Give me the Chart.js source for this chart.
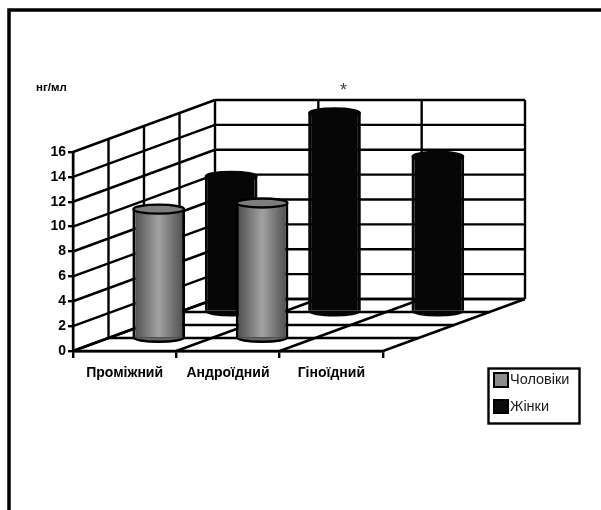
<!DOCTYPE html>
<html>
<head>
<meta charset="utf-8">
<style>
html, body { margin: 0; padding: 0; background: #fff; }
canvas { display: block; filter: blur(0.5px); }
</style>
<script src="https://cdn.jsdelivr.net/npm/chart.js@4"></script>
</head>
<body>
<canvas id="chart" width="601" height="510"></canvas>
<script>
const categories = ['Проміжний', 'Андроїдний', 'Гіноїдний'];
const men = [10.4, 10.9, null];
const women = [10.9, 16, 12.5];
const seriesNames = ['Чоловіки', 'Жінки'];
const yTicks = [0, 2, 4, 6, 8, 10, 12, 14, 16];
const unitLabel = 'нг/мл';
const starLabel = '*';

// depth of the fake 3D box, and how far back each row of bars stands
const depth = { x: 142, y: -52 };
const rows = [0.24, 0.75];
const depthLines = [0.25, 0.5, 0.75, 1];

function menFill(context) {
    const chart = context.chart;
    if (!chart.chartArea || context.dataIndex === undefined) return '#888';
    const cx = chart.scales.x.getPixelForValue(context.dataIndex);
    const g = chart.ctx.createLinearGradient(cx - 26, 0, cx + 26, 0);
    g.addColorStop(0, '#4a4a4a');
    g.addColorStop(0.5, '#a2a2a2');
    g.addColorStop(1, '#4a4a4a');
    return g;
}

function line(ctx, x1, y1, x2, y2) {
    ctx.beginPath();
    ctx.moveTo(x1, y1);
    ctx.lineTo(x2, y2);
    ctx.stroke();
}

const box3d = {
    id: 'box3d',
    beforeDatasetsDraw(chart) {
        const { ctx, scales: { x, y } } = chart;
        const left = x.left, right = x.right, base = y.getPixelForValue(0), top = y.getPixelForValue(16);
        ctx.save();
        ctx.strokeStyle = '#000';
        ctx.lineWidth = 2.4;
        // side wall and back wall
        yTicks.forEach(v => {
            const py = y.getPixelForValue(v);
            line(ctx, left, py, left + depth.x, py + depth.y);
            line(ctx, left + depth.x, py + depth.y, right + depth.x, py + depth.y);
        });
        line(ctx, left, top, left, base);
        depthLines.forEach(f => {
            const dx = depth.x * f, dy = depth.y * f;
            line(ctx, left + dx, top + dy, left + dx, base + dy);
            line(ctx, left + dx, base + dy, right + dx, base + dy);
        });
        // floor
        line(ctx, left, base, right, base);
        const step = (right - left) / categories.length;
        for (let i = 0; i <= categories.length; i++) {
            const px = left + step * i;
            line(ctx, px, base, px + depth.x, base + depth.y);
            if (i > 0) line(ctx, px + depth.x, top + depth.y, px + depth.x, base + depth.y);
        }
        ctx.restore();
    },
    beforeDatasetDraw(chart, args) {
        const ctx = chart.ctx, f = rows[args.index];
        ctx.save();
        ctx.translate(depth.x * f, depth.y * f);
    },
    afterDatasetDraw(chart, args) {
        const ctx = chart.ctx;
        const isMen = args.index === 0;
        args.meta.data.forEach((bar, i) => {
            if (chart.data.datasets[args.index].data[i] === null) return;
            const rx = bar.width / 2 - 1, ry = 4.5;
            // round bottom
            ctx.fillStyle = isMen ? '#666' : '#060606';
            ctx.strokeStyle = isMen ? '#000' : '#060606';
            ctx.lineWidth = 2.4;
            ctx.beginPath();
            ctx.ellipse(bar.x, bar.base, rx, ry, 0, 0, Math.PI);
            ctx.fill();
            ctx.stroke();
            // round top
            ctx.fillStyle = isMen ? '#7d7d7d' : '#060606';
            ctx.beginPath();
            ctx.ellipse(bar.x, bar.y, rx, ry, 0, 0, Math.PI * 2);
            ctx.fill();
            ctx.stroke();
        });
        ctx.restore();
    },
    afterDraw(chart) {
        const ctx = chart.ctx;
        ctx.save();
        // outer frame
        ctx.strokeStyle = '#000';
        ctx.lineWidth = 3.5;
        ctx.beginPath();
        ctx.moveTo(9, 510);
        ctx.lineTo(9, 10);
        ctx.lineTo(601, 10);
        ctx.stroke();
        // texts
        ctx.fillStyle = '#000';
        ctx.textBaseline = 'middle';
        ctx.font = 'bold 11.5px "Liberation Sans"';
        ctx.fillText(unitLabel, 36, 88);
        ctx.fillStyle = '#444';
        ctx.font = '18px "Liberation Sans"';
        ctx.fillText(starLabel, 340, 91);
        // legend
        ctx.strokeStyle = '#000';
        ctx.lineWidth = 2.4;
        ctx.strokeRect(488.5, 368.5, 91, 55);
        ctx.lineWidth = 2;
        ctx.fillStyle = '#8c8c8c';
        ctx.fillRect(494, 373, 14, 14);
        ctx.strokeRect(494, 373, 14, 14);
        ctx.fillStyle = '#0a0a0a';
        ctx.fillRect(494, 400, 14, 13);
        ctx.strokeRect(494, 400, 14, 13);
        ctx.fillStyle = '#1a1a1a';
        ctx.font = '14.5px "Liberation Sans"';
        ctx.fillText(seriesNames[0], 510, 380);
        ctx.fillText(seriesNames[1], 510, 407);
        ctx.restore();
    }
};

new Chart(document.getElementById('chart'), {
    type: 'bar',
    data: {
        labels: categories,
        datasets: [
            { label: seriesNames[0], data: men, backgroundColor: menFill, borderColor: '#000',
              borderWidth: { left: 3, right: 3, top: 0, bottom: 0 }, clip: false },
            { label: seriesNames[1], data: women, backgroundColor: '#060606', borderColor: '#060606',
              borderWidth: { left: 3, right: 3, top: 0, bottom: 0 }, clip: false }
        ]
    },
    options: {
        responsive: false,
        animation: false,
        layout: { padding: { left: 0, top: 152, right: 218, bottom: 129 } },
        datasets: { bar: { grouped: false, barPercentage: 0.51, categoryPercentage: 1 } },
        plugins: { legend: { display: false }, tooltip: { enabled: false } },
        scales: {
            x: {
                afterFit: scale => { scale.height = 30; },
                border: { color: '#000', width: 2.4 },
                grid: { drawOnChartArea: false, color: '#000', lineWidth: 2.4, tickLength: 7 },
                ticks: { color: '#000', padding: 7, maxRotation: 0, font: { family: 'Liberation Sans', size: 14, weight: 'bold' } }
            },
            y: {
                min: 0,
                max: 16,
                afterFit: scale => { scale.width = 73; },
                afterBuildTicks: scale => { scale.ticks = yTicks.map(value => ({ value })); },
                border: { color: '#000', width: 2.4 },
                grid: { drawOnChartArea: false, color: '#000', lineWidth: 2.4, tickLength: 5 },
                ticks: { color: '#000', padding: 2, font: { family: 'Liberation Sans', size: 14, weight: 'bold' } }
            }
        }
    },
    plugins: [box3d]
});
</script>
</body>
</html>
